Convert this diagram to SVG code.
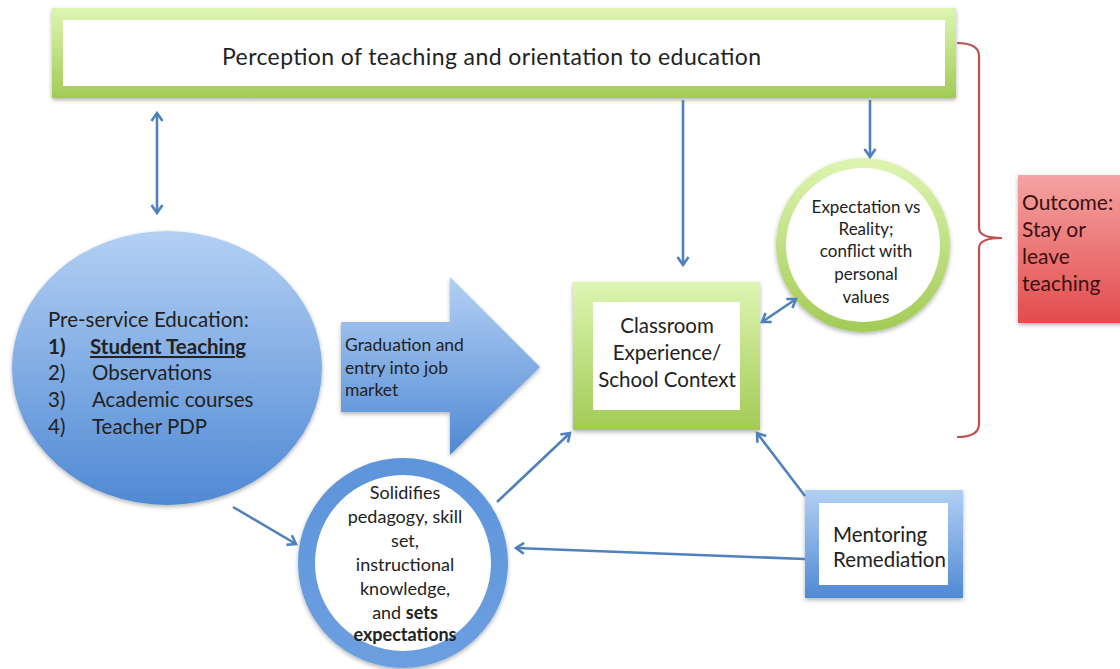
<svg xmlns="http://www.w3.org/2000/svg" width="1120" height="669" viewBox="0 0 1120 669">
  <defs>
    <linearGradient id="green" x1="0" y1="0" x2="0" y2="1">
      <stop offset="0" stop-color="#def5b2"/>
      <stop offset="1" stop-color="#a2cb55"/>
    </linearGradient>
    <linearGradient id="blue" x1="0" y1="0" x2="0" y2="1">
      <stop offset="0" stop-color="#b3d0f4"/>
      <stop offset="1" stop-color="#4f89d4"/>
    </linearGradient>
    <linearGradient id="blueRing" x1="0" y1="0" x2="0" y2="1">
      <stop offset="0" stop-color="#5d94da"/>
      <stop offset="1" stop-color="#6c9fe0"/>
    </linearGradient>
    <linearGradient id="red" x1="0" y1="0" x2="0" y2="1">
      <stop offset="0" stop-color="#f5a3a3"/>
      <stop offset="1" stop-color="#e24c4c"/>
    </linearGradient>
    <filter id="shadow" x="-10%" y="-10%" width="120%" height="125%">
      <feDropShadow dx="0" dy="2" stdDeviation="2" flood-color="#000" flood-opacity="0.3"/>
    </filter>
    <marker id="head" viewBox="0 0 14 14" refX="11" refY="7" markerWidth="14" markerHeight="14" markerUnits="userSpaceOnUse" orient="auto-start-reverse">
      <path d="M3,1.5 L11,7 L3,12.5" fill="none" stroke="#4f81bd" stroke-width="2.6" stroke-linejoin="miter"/>
    </marker>
    <style>
      text { font-family: Lato, "Open Sans", "Liberation Sans", sans-serif; fill: #222; }
      .conn { stroke: #4f81bd; stroke-width: 2.6; fill: none; }
      .big { font-size: 23px; }
      .mid { font-size: 20.5px; }
      .grad { font-size: 17.5px; }
      .sm { font-size: 17px; }
      .sol { font-size: 18px; }
      .out { font-size: 21px; fill: #3a1010; }
      .c { text-anchor: middle; }
    </style>
  </defs>

  <rect width="1120" height="669" fill="#ffffff"/>

  <!-- perception banner -->
  <g id="perception">
    <rect x="52" y="8" width="904" height="90" fill="url(#green)" filter="url(#shadow)"/>
    <rect x="63" y="20" width="882" height="66" fill="#ffffff"/>
    <text class="big" x="222" y="65" textLength="539">Perception of teaching and orientation to education</text>
  </g>

  <!-- pre-service education -->
  <g id="preservice">
    <ellipse cx="167" cy="368" rx="155" ry="137" fill="url(#blue)" filter="url(#shadow)"/>
    <text class="mid" x="48" y="327">Pre-service Education:</text>
    <text class="mid" x="48" y="354" font-weight="bold">1)</text>
    <text class="mid" x="90" y="354" font-weight="bold" text-decoration="underline">Student Teaching</text>
    <text class="mid" x="48" y="380">2)</text>
    <text class="mid" x="92" y="380">Observations</text>
    <text class="mid" x="48" y="407">3)</text>
    <text class="mid" x="92" y="407">Academic courses</text>
    <text class="mid" x="48" y="434">4)</text>
    <text class="mid" x="92" y="434">Teacher PDP</text>
  </g>

  <!-- graduation arrow -->
  <g id="graduation">
    <path d="M341,322 L450,322 L450,277 L540,367 L450,455 L450,412 L341,412 Z" fill="url(#blue)" filter="url(#shadow)"/>
    <text class="grad" x="345" y="351">Graduation and</text>
    <text class="grad" x="345" y="374">entry into job</text>
    <text class="grad" x="345" y="396">market</text>
  </g>

  <!-- classroom experience -->
  <g id="classroom">
    <rect x="573" y="282" width="187" height="148" fill="url(#green)" filter="url(#shadow)"/>
    <rect x="593" y="302" width="147" height="108" fill="#ffffff"/>
    <text class="mid c" x="667" y="333">Classroom</text>
    <text class="mid c" x="667" y="360">Experience/</text>
    <text class="mid c" x="667" y="387">School Context</text>
  </g>

  <!-- expectation vs reality -->
  <g id="expectation">
    <circle cx="863" cy="245" r="87" fill="url(#green)" filter="url(#shadow)"/>
    <circle cx="863" cy="245" r="77" fill="#ffffff"/>
    <text class="sm c" x="866" y="213">Expectation vs</text>
    <text class="sm c" x="866" y="235">Reality;</text>
    <text class="sm c" x="866" y="257">conflict with</text>
    <text class="sm c" x="866" y="280">personal</text>
    <text class="sm c" x="866" y="303">values</text>
  </g>

  <!-- outcome -->
  <g id="outcome">
    <rect x="1018" y="175" width="110" height="148" fill="url(#red)" filter="url(#shadow)"/>
    <text class="out" x="1022" y="210">Outcome:</text>
    <text class="out" x="1022" y="237">Stay or</text>
    <text class="out" x="1022" y="264">leave</text>
    <text class="out" x="1022" y="291">teaching</text>
  </g>

  <!-- solidifies -->
  <g id="solidifies">
    <circle cx="403" cy="563" r="105" fill="url(#blueRing)" filter="url(#shadow)"/>
    <circle cx="403" cy="563" r="88" fill="#ffffff"/>
    <text class="sol c" x="405" y="499">Solidifies</text>
    <text class="sol c" x="405" y="523">pedagogy, skill</text>
    <text class="sol c" x="405" y="547">set,</text>
    <text class="sol c" x="405" y="571">instructional</text>
    <text class="sol c" x="405" y="595">knowledge,</text>
    <text class="sol c" x="405" y="619">and <tspan font-weight="bold">sets</tspan></text>
    <text class="sol c" x="405" y="641" font-weight="bold">expectations</text>
  </g>

  <!-- mentoring -->
  <g id="mentoring">
    <rect x="805" y="490" width="158" height="108" fill="url(#blue)" filter="url(#shadow)"/>
    <rect x="819" y="503" width="129" height="82" fill="#ffffff"/>
    <text class="mid" x="833" y="542">Mentoring</text>
    <text class="mid" x="833" y="567">Remediation</text>
  </g>

  <!-- connectors -->
  <g id="connectors">
    <line class="conn" x1="157" y1="113" x2="157" y2="213" marker-start="url(#head)" marker-end="url(#head)"/>
    <line class="conn" x1="683" y1="100" x2="683" y2="265" marker-end="url(#head)"/>
    <line class="conn" x1="870" y1="100" x2="870" y2="157" marker-end="url(#head)"/>
    <line class="conn" x1="762" y1="322" x2="796" y2="299" marker-start="url(#head)" marker-end="url(#head)"/>
    <line class="conn" x1="233" y1="507" x2="296" y2="544" marker-end="url(#head)"/>
    <line class="conn" x1="497" y1="502" x2="570" y2="433" marker-end="url(#head)"/>
    <line class="conn" x1="805" y1="496" x2="757" y2="433" marker-end="url(#head)"/>
    <line class="conn" x1="805" y1="559" x2="516" y2="548" marker-end="url(#head)"/>
    <!-- outcome brace -->
    <path d="M957,43 Q979,43 979,56 L979,228 Q979,238 1002,238 Q979,238 979,248 L979,424 Q979,437 957,437" fill="none" stroke="#c0504d" stroke-width="2.2"/>
  </g>
</svg>
